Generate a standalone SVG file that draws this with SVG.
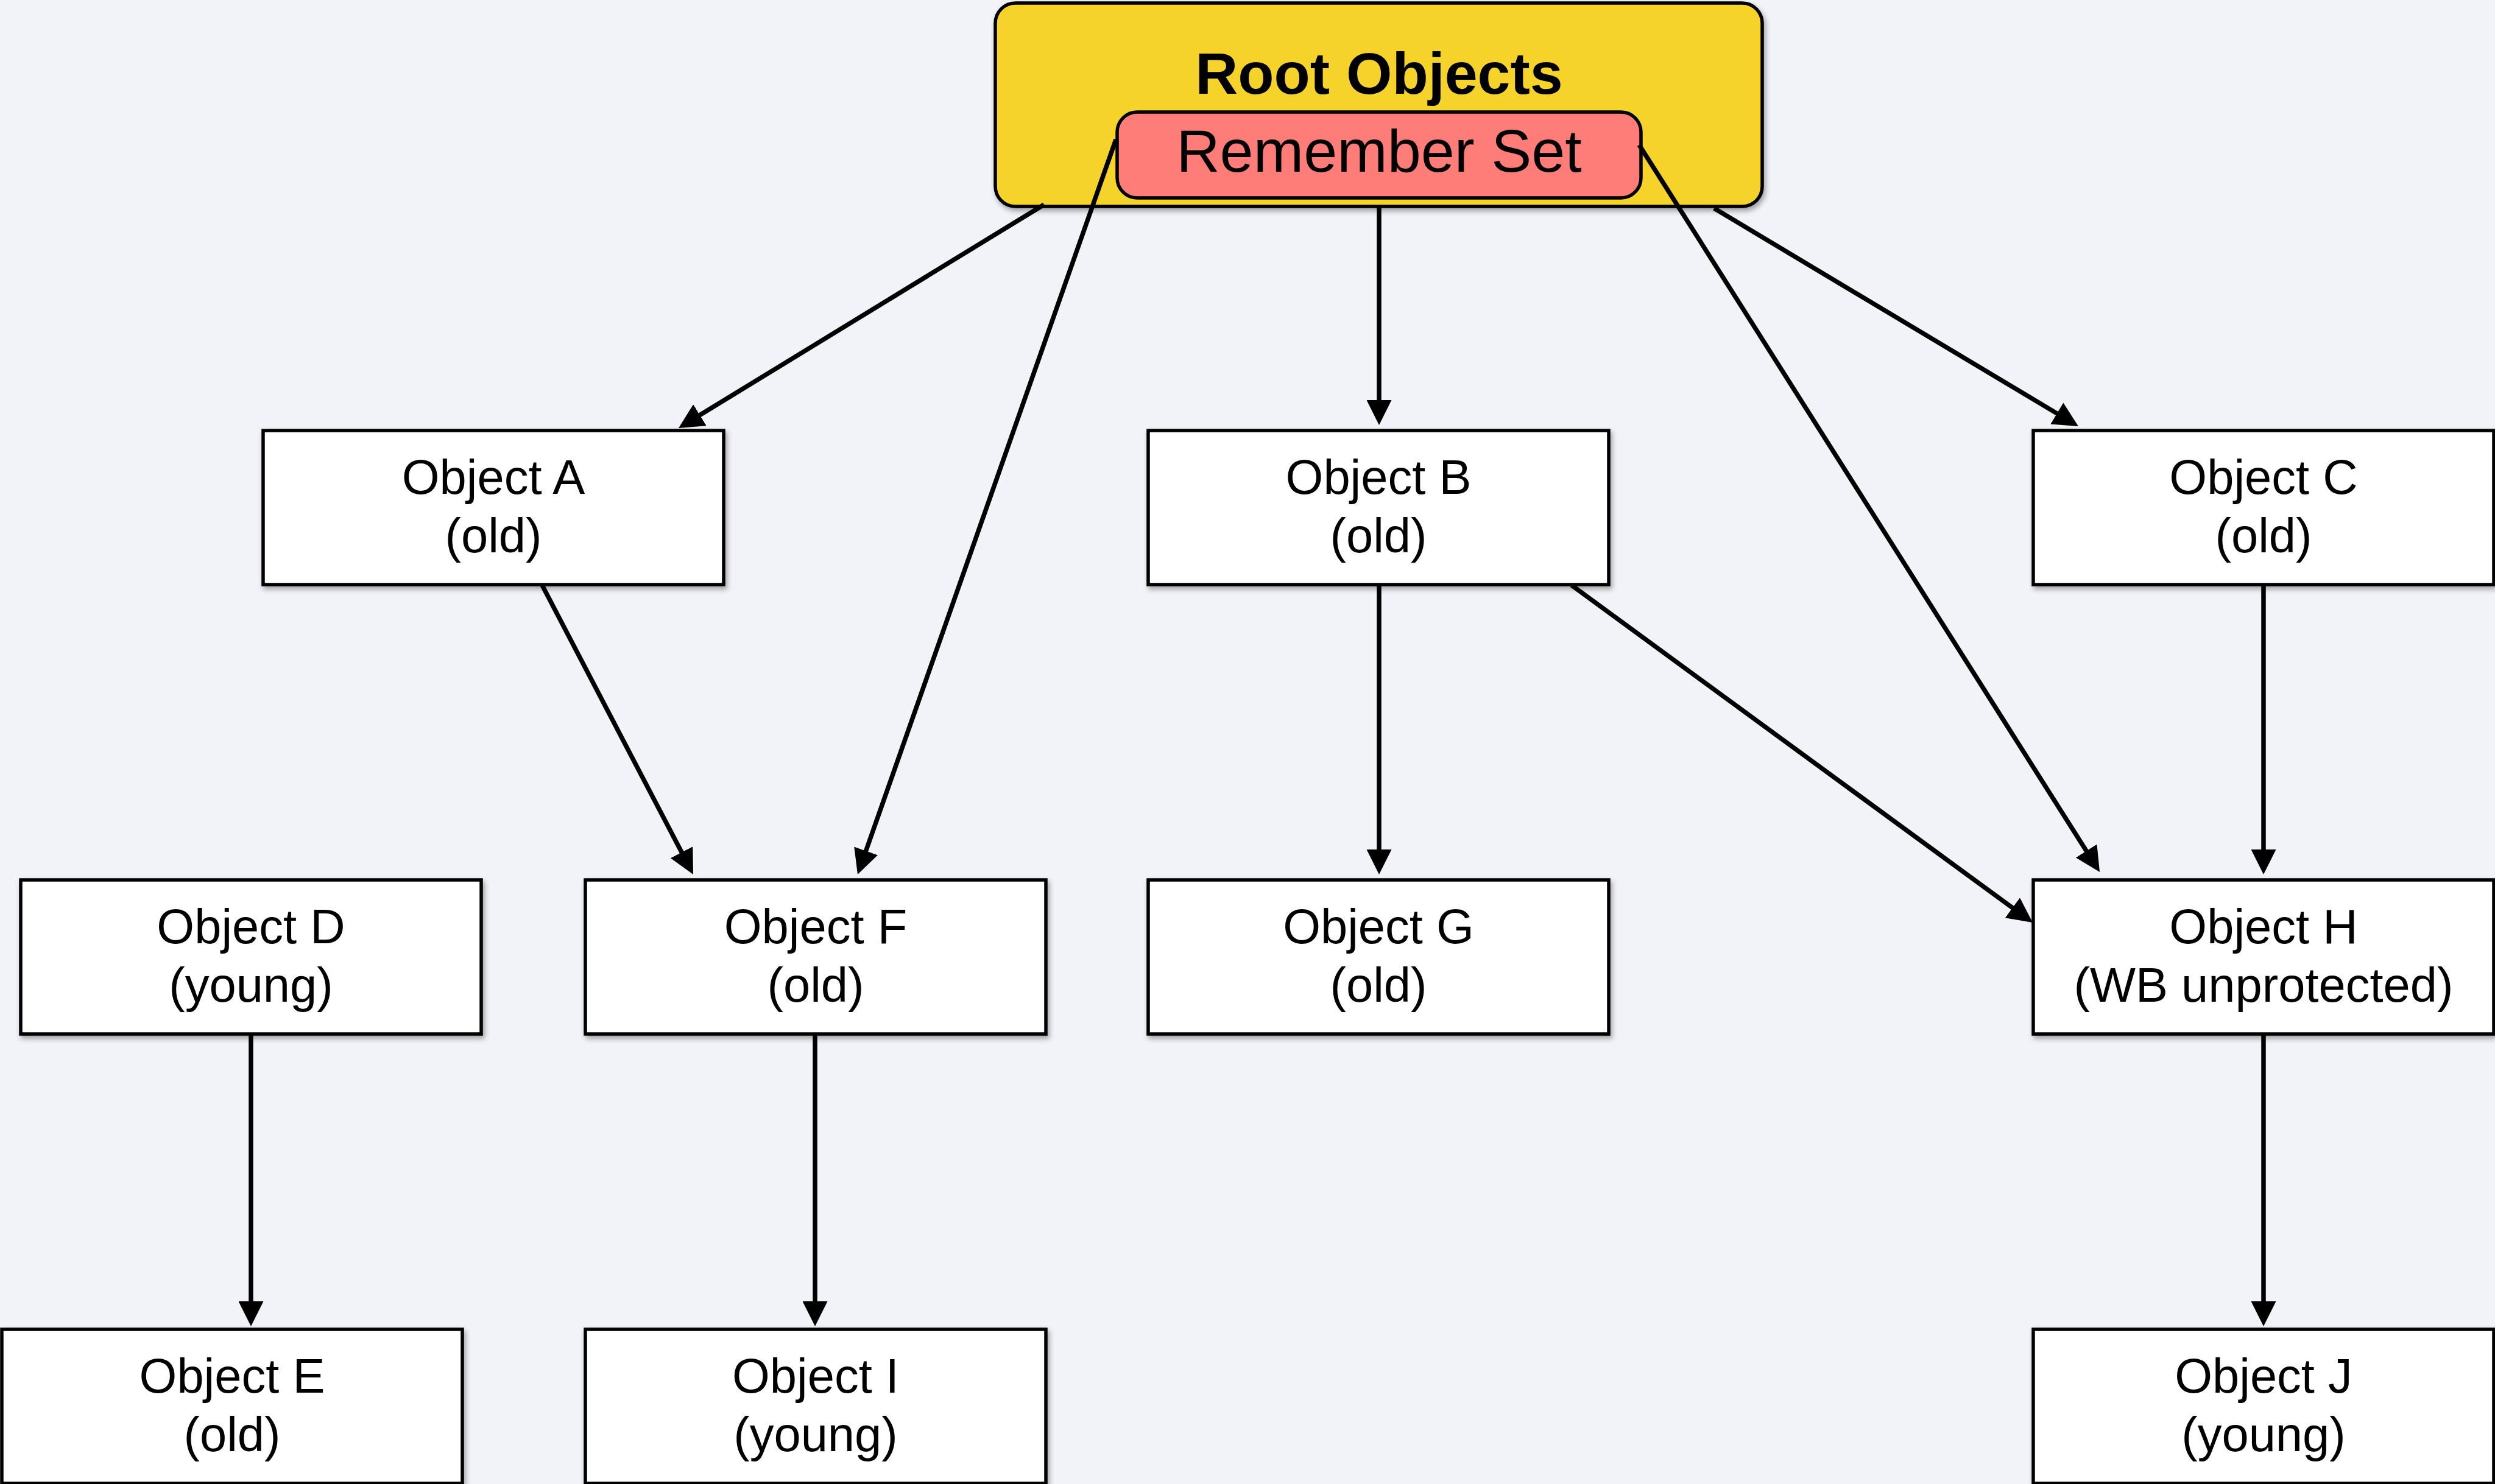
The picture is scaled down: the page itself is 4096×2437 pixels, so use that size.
<svg xmlns="http://www.w3.org/2000/svg" width="4096" height="2437" viewBox="0 0 4096 2437">
<defs>
<style>
.box{fill:#ffffff;stroke:#000;stroke-width:5.5;filter:url(#sh)}
.t{font-family:"Liberation Sans",Arial,sans-serif;font-size:79.5px;fill:#000;text-anchor:middle}
.c{stroke:#000;stroke-width:7.5;fill:none;marker-end:url(#arr)}
</style>
<filter id="sh" x="-10%" y="-10%" width="120%" height="130%">
<feDropShadow dx="3" dy="5" stdDeviation="4" flood-color="#000" flood-opacity="0.35"/>
</filter>
<marker id="arr" viewBox="0 0 41 41" refX="31" refY="20.5" markerWidth="41" markerHeight="41" markerUnits="userSpaceOnUse" orient="auto">
<path d="M0,0 L41,20.5 L0,41 z" fill="#000"/>
</marker>
</defs>
<rect x="0" y="0" width="4096" height="2437" fill="#F2F3F8"/>
<g id="root">
<rect x="1634" y="5" width="1259" height="334" rx="33" ry="33" fill="#F6D32B" stroke="#000" stroke-width="5.5" filter="url(#sh)"/>
<text x="2264" y="154" font-family="'Liberation Sans',Arial,sans-serif" font-size="97" font-weight="bold" text-anchor="middle">Root Objects</text>
</g>
<g id="remember-set">
<rect x="1834" y="184" width="860" height="141" rx="33" ry="33" fill="#FF7D78" stroke="#000" stroke-width="5.5"/>
<text x="2264" y="282" font-family="'Liberation Sans',Arial,sans-serif" font-size="99" text-anchor="middle">Remember Set</text>
</g>
<g id="objA"><rect class="box" x="432" y="707" width="756" height="253"/><text class="t" x="810" y="811">Object A</text><text class="t" x="810" y="907">(old)</text></g>
<g id="objB"><rect class="box" x="1885" y="707" width="756" height="253"/><text class="t" x="2263" y="811">Object B</text><text class="t" x="2263" y="907">(old)</text></g>
<g id="objC"><rect class="box" x="3338" y="707" width="756" height="253"/><text class="t" x="3716" y="811">Object C</text><text class="t" x="3716" y="907">(old)</text></g>
<g id="objD"><rect class="box" x="34" y="1445" width="756" height="253"/><text class="t" x="412" y="1549">Object D</text><text class="t" x="412" y="1645">(young)</text></g>
<g id="objF"><rect class="box" x="961" y="1445" width="756" height="253"/><text class="t" x="1339" y="1549">Object F</text><text class="t" x="1339" y="1645">(old)</text></g>
<g id="objG"><rect class="box" x="1885" y="1445" width="756" height="253"/><text class="t" x="2263" y="1549">Object G</text><text class="t" x="2263" y="1645">(old)</text></g>
<g id="objH"><rect class="box" x="3338" y="1445" width="756" height="253"/><text class="t" x="3716" y="1549">Object H</text><text class="t" x="3716" y="1645">(WB unprotected)</text></g>
<g id="objE"><rect class="box" x="3" y="2183" width="756" height="253"/><text class="t" x="381" y="2287">Object E</text><text class="t" x="381" y="2383">(old)</text></g>
<g id="objI"><rect class="box" x="961" y="2183" width="756" height="253"/><text class="t" x="1339" y="2287">Object I</text><text class="t" x="1339" y="2383">(young)</text></g>
<g id="objJ"><rect class="box" x="3338" y="2183" width="756" height="253"/><text class="t" x="3716" y="2287">Object J</text><text class="t" x="3716" y="2383">(young)</text></g>
<g id="connectors">
<line class="c" x1="1714" y1="336" x2="1122.5" y2="697.8"/>
<line class="c" x1="1832" y1="229" x2="1411.3" y2="1426.6"/>
<line class="c" x1="2264" y1="339" x2="2264" y2="688"/>
<line class="c" x1="2691" y1="238" x2="3441.7" y2="1423.6"/>
<line class="c" x1="2814" y1="342" x2="3403.4" y2="694.9"/>
<line class="c" x1="890" y1="961" x2="1133.4" y2="1427.1"/>
<line class="c" x1="2264" y1="961" x2="2264" y2="1426"/>
<line class="c" x1="2580" y1="961" x2="3328.9" y2="1509.1"/>
<line class="c" x1="3716" y1="961" x2="3716" y2="1426"/>
<line class="c" x1="412" y1="1698" x2="412" y2="2168"/>
<line class="c" x1="1338" y1="1698" x2="1338" y2="2168"/>
<line class="c" x1="3716" y1="1698" x2="3716" y2="2168"/>
</g>
</svg>
